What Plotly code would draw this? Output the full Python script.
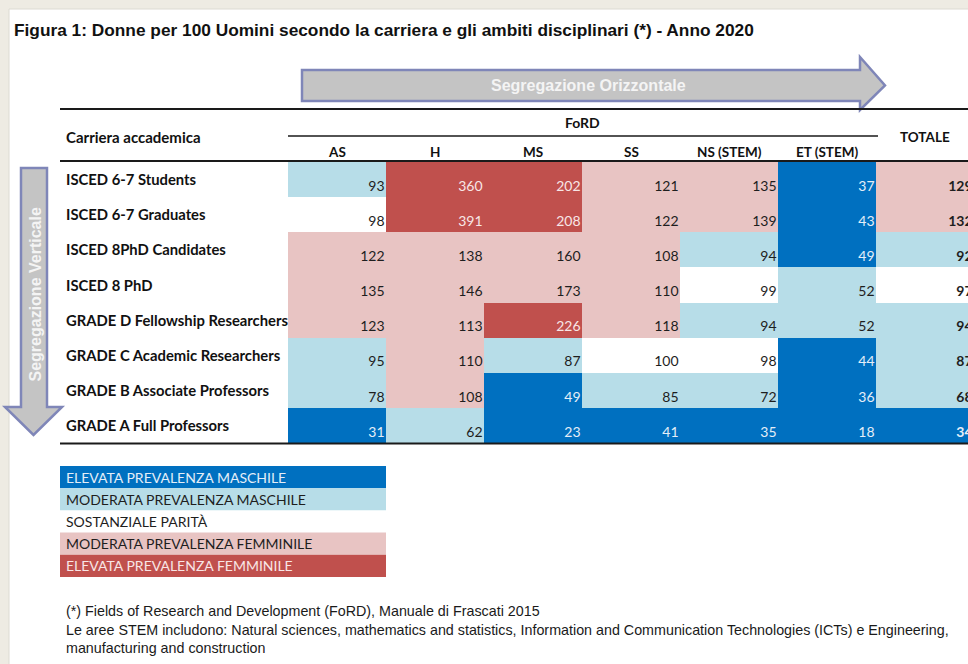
import plotly.graph_objects as go

# ---------------- data ----------------
title_text = "Figura 1: Donne per 100 Uomini secondo la carriera e gli ambiti disciplinari (*) - Anno 2020"
careers = [
    "ISCED 6-7 Students",
    "ISCED 6-7 Graduates",
    "ISCED 8PhD Candidates",
    "ISCED 8 PhD",
    "GRADE D Fellowship Researchers",
    "GRADE C Academic Researchers",
    "GRADE B Associate Professors",
    "GRADE A Full Professors",
]
fields = ["AS", "H", "MS", "SS", "NS (STEM)", "ET (STEM)"]
total_label = "TOTALE"
AS = [93, 98, 122, 135, 123, 95, 78, 31]
H = [360, 391, 138, 146, 113, 110, 108, 62]
MS = [202, 208, 160, 173, 226, 87, 49, 23]
SS = [121, 122, 108, 110, 118, 100, 85, 41]
NS = [135, 139, 94, 99, 94, 98, 72, 35]
ET = [37, 43, 49, 52, 52, 44, 36, 18]
TOTALE = [129, 132, 92, 97, 94, 87, 68, 34]
legend_labels = [
    "ELEVATA PREVALENZA MASCHILE",
    "MODERATA PREVALENZA MASCHILE",
    "SOSTANZIALE PARITÀ",
    "MODERATA PREVALENZA FEMMINILE",
    "ELEVATA PREVALENZA FEMMINILE",
]
footnotes = [
    "(*) Fields of Research and Development (FoRD), Manuale di Frascati 2015",
    "Le aree STEM includono: Natural sciences, mathematics and statistics, Information and Communication Technologies (ICTs) e Engineering,",
    "manufacturing and construction",
]

# ---------------- styles ----------------
W, Hpx = 968, 664
class_colors = ["#0070C0", "#B7DDE8", "#FFFFFF", "#E8C4C3", "#C0504D"]
class_text = ["#E4EEF8", "#1E1E1E", "#1E1E1E", "#1E1E1E", "#F8E6E6"]
CAL = "Lato, 'Open Sans', sans-serif"
ARIAL = "'Liberation Sans', Arial, sans-serif"
GREY_ARROW = "#C4C4C4"
ARROW_LINE = "#7F86B8"


def px(x):
    return x / W


def py(y):
    return 1 - y / Hpx


def cls(v):
    if v < 50:
        return 0
    if v < 96:
        return 1
    if v <= 104:
        return 2
    if v < 200:
        return 3
    return 4


def note(text, x, y, size, color="#111111", family=CAL, xanchor="left", xref="paper",
         yref="paper", **kw):
    return dict(text=text, x=x, y=y, xref=xref, yref=yref, xanchor=xanchor,
                yanchor="middle", showarrow=False,
                font=dict(family=family, size=size, color=color), **kw)


columns = [AS, H, MS, SS, NS, ET, TOTALE]
col_names = fields + [total_label]
nrow, ncol = len(careers), len(columns)

z = [[cls(columns[c][r]) for c in range(ncol)] for r in range(nrow)]
cscale = []
for i, col in enumerate(class_colors):
    cscale.append([i / 5, col])
    cscale.append([(i + 1) / 5, col])

fig = go.Figure()
fig.add_trace(go.Heatmap(
    z=z, x=list(range(ncol)), y=list(range(nrow)),
    colorscale=cscale, zmin=-0.5, zmax=4.5, showscale=False,
    xgap=0, ygap=0, hoverinfo="skip",
))

tx, ty, tt, tc = [], [], [], []
for r in range(nrow):
    for c in range(ncol):
        v = columns[c][r]
        tx.append(c + 0.485)
        ty.append(r + 0.22)
        tt.append(f"<b>{v}</b>" if c == ncol - 1 else str(v))
        tc.append(class_text[cls(v)])
fig.add_trace(go.Scatter(
    x=tx, y=ty, text=tt, mode="text", textposition="middle left",
    textfont=dict(family=CAL, size=14, color=tc), cliponaxis=True,
    hoverinfo="skip", showlegend=False,
))

col_w = 98
x0_tab = 288
fig.update_xaxes(domain=[px(x0_tab), 1], range=[-0.5, -0.5 + (W - x0_tab) / col_w],
                 visible=False, fixedrange=True)
fig.update_yaxes(domain=[py(443), py(162)], range=[nrow - 0.5, -0.5],
                 visible=False, fixedrange=True)

shapes = []
ann = []

# page frame
shapes.append(dict(type="rect", xref="paper", yref="paper", x0=0, x1=1, y0=0, y1=1,
                   fillcolor="#EEEBE3", line_width=0, layer="below"))
shapes.append(dict(type="rect", xref="paper", yref="paper", x0=px(9), x1=1.01, y0=-0.01, y1=py(9),
                   fillcolor="#FFFFFF", line=dict(color="#DDDAD2", width=1), layer="below"))

# title
ann.append(note(f"<b>{title_text}</b>", px(12), py(30), 17.3, family=ARIAL))

# horizontal arrow
hp = (f"M {px(302)},{py(70)} L {px(860)},{py(70)} L {px(860)},{py(57)} L {px(885)},{py(85.5)} "
      f"L {px(860)},{py(110)} L {px(860)},{py(101)} L {px(302)},{py(101)} Z")
shapes.append(dict(type="path", xref="paper", yref="paper", path=hp, fillcolor=GREY_ARROW,
                   line=dict(color=ARROW_LINE, width=2.5), layer="above"))
ann.append(note("<b>Segregazione Orizzontale</b>", px(588), py(85.5), 16, color="#F4F4F4",
                family=ARIAL, xanchor="center"))

# vertical arrow
vp = (f"M {px(21)},{py(168)} L {px(47)},{py(168)} L {px(47)},{py(407)} L {px(62)},{py(407)} "
      f"L {px(33.5)},{py(435)} L {px(5)},{py(407)} L {px(21)},{py(407)} Z")
shapes.append(dict(type="path", xref="paper", yref="paper", path=vp, fillcolor=GREY_ARROW,
                   line=dict(color=ARROW_LINE, width=2.5), layer="above"))
ann.append(note("<b>Segregazione Verticale</b>", px(34.5), py(295), 16, color="#F4F4F4",
                family=ARIAL, xanchor="center", textangle=-90))

# table lines
for yl, x0, x1, w in [(109, 60, 968, 2), (136, 288, 878, 1.5), (161, 60, 968, 2), (443.5, 60, 968, 2)]:
    shapes.append(dict(type="line", xref="paper", yref="paper", x0=px(x0), x1=px(x1),
                       y0=py(yl), y1=py(yl), line=dict(color="#1A1A1A", width=w), layer="above"))

# headers
ann.append(note("<b>Carriera accademica</b>", px(64), py(137), 15))
ann.append(note("<b>FoRD</b>", (len(fields) - 1) / 2, py(122), 14, xref="x", xanchor="center"))
for c, name in enumerate(fields):
    ann.append(note(f"<b>{name}</b>", c, py(152), 13.5, xref="x", xanchor="center"))
ann.append(note(f"<b>{total_label}</b>", ncol - 1, py(137), 13.5, xref="x", xanchor="center"))

# row labels
for r, name in enumerate(careers):
    ann.append(note(f"<b>{name}</b>", px(64), r - 0.01, 14.8, yref="y"))

# legend boxes
ly0, lh = 466, 22.2
for i, lab in enumerate(legend_labels):
    y0 = ly0 + i * lh
    shapes.append(dict(type="rect", xref="paper", yref="paper", x0=px(60), x1=px(386),
                       y0=py(y0), y1=py(y0 + lh), fillcolor=class_colors[i], line_width=0,
                       layer="above"))
    ann.append(note(lab, px(64), py(y0 + lh / 2), 14, color=class_text[i]))

# footnotes
for i, line in enumerate(footnotes):
    ann.append(note(line, px(64), py(611 + i * 18.5), 14.3, color="#1A1A1A", family=ARIAL))

fig.update_layout(
    width=W, height=Hpx, margin=dict(l=0, r=0, t=0, b=0),
    paper_bgcolor="#FFFFFF", plot_bgcolor="rgba(0,0,0,0)",
    shapes=shapes, annotations=ann, showlegend=False,
)
fig.write_html(
    "out.html",
    config={"displayModeBar": False},
    post_script="document.body.style.margin='0';document.body.style.overflow='hidden';",
)
